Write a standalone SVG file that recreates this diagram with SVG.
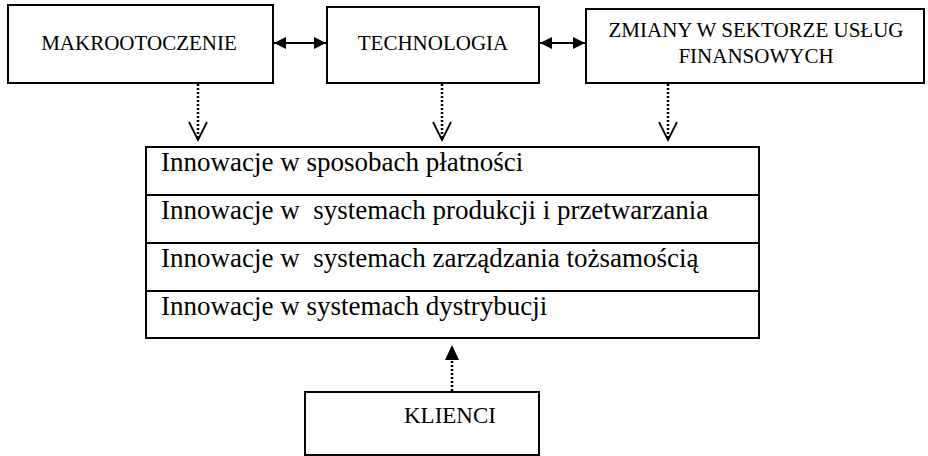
<svg xmlns="http://www.w3.org/2000/svg" width="928" height="456" viewBox="0 0 928 456">
<style>
.box{fill:#fff;stroke:#000;stroke-width:2}
.t{font-family:"Liberation Serif","Times New Roman",serif;fill:#000}
.cap{font-size:21px;text-anchor:middle}
.row{font-size:27px}
.dot{stroke:#000;stroke-width:2.5;stroke-dasharray:2 2;fill:none}
.sol{stroke:#000;stroke-width:2;fill:none}
.vee{stroke:#000;stroke-width:1.8;fill:none}
</style>
<defs>
<marker id="fill" viewBox="0 0 12 12" refX="12" refY="6" markerWidth="12" markerHeight="12" markerUnits="userSpaceOnUse" orient="auto-start-reverse">
<path d="M0,0 L12,6 L0,12 Z" fill="#000"/>
</marker>
</defs>
<rect width="928" height="456" fill="#fff"/>
<g id="makrootoczenie">
<rect class="box" x="8" y="5" width="265" height="78"/>
<text class="t cap" x="139" y="50">MAKROOTOCZENIE</text>
</g>
<g id="technologia">
<rect class="box" x="327" y="7" width="212" height="76"/>
<text class="t cap" x="433" y="50">TECHNOLOGIA</text>
</g>
<g id="zmiany">
<rect class="box" x="586" y="9" width="338" height="74"/>
<text class="t cap" x="756" y="37">ZMIANY W SEKTORZE USŁUG</text>
<text class="t cap" x="756" y="63">FINANSOWYCH</text>
</g>
<g id="innowacje">
<rect class="box" x="146" y="147" width="613" height="191"/>
<line class="sol" x1="146" y1="195" x2="759" y2="195"/>
<line class="sol" x1="146" y1="243" x2="759" y2="243"/>
<line class="sol" x1="146" y1="291" x2="759" y2="291"/>
<text class="t row" x="161" y="171">Innowacje w sposobach płatności</text>
<text class="t row" x="161" y="219" xml:space="preserve">Innowacje w  systemach produkcji i przetwarzania</text>
<text class="t row" x="161" y="267" xml:space="preserve">Innowacje w  systemach zarządzania tożsamością</text>
<text class="t row" x="161" y="315">Innowacje w systemach dystrybucji</text>
</g>
<g id="klienci">
<rect class="box" x="305" y="392" width="234" height="63"/>
<text class="t cap" x="450" y="423" style="font-size:23px">KLIENCI</text>
</g>
<g id="connectors">
<line class="sol" x1="274" y1="43" x2="326" y2="43" marker-start="url(#fill)" marker-end="url(#fill)"/>
<line class="sol" x1="540" y1="43" x2="585" y2="43" marker-start="url(#fill)" marker-end="url(#fill)"/>
<line class="dot" x1="198" y1="84" x2="198" y2="139"/>
<path class="vee" d="M189,122 L198,140 L207,122"/>
<line class="dot" x1="442" y1="84" x2="442" y2="139"/>
<path class="vee" d="M433,122 L442,140 L451,122"/>
<line class="dot" x1="668" y1="84" x2="668" y2="139"/>
<path class="vee" d="M659,122 L668,140 L677,122"/>
<line class="dot" x1="452" y1="391" x2="452" y2="359"/>
<path d="M445,360 L452,345 L459,360 Z" fill="#000"/>
</g>
</svg>
